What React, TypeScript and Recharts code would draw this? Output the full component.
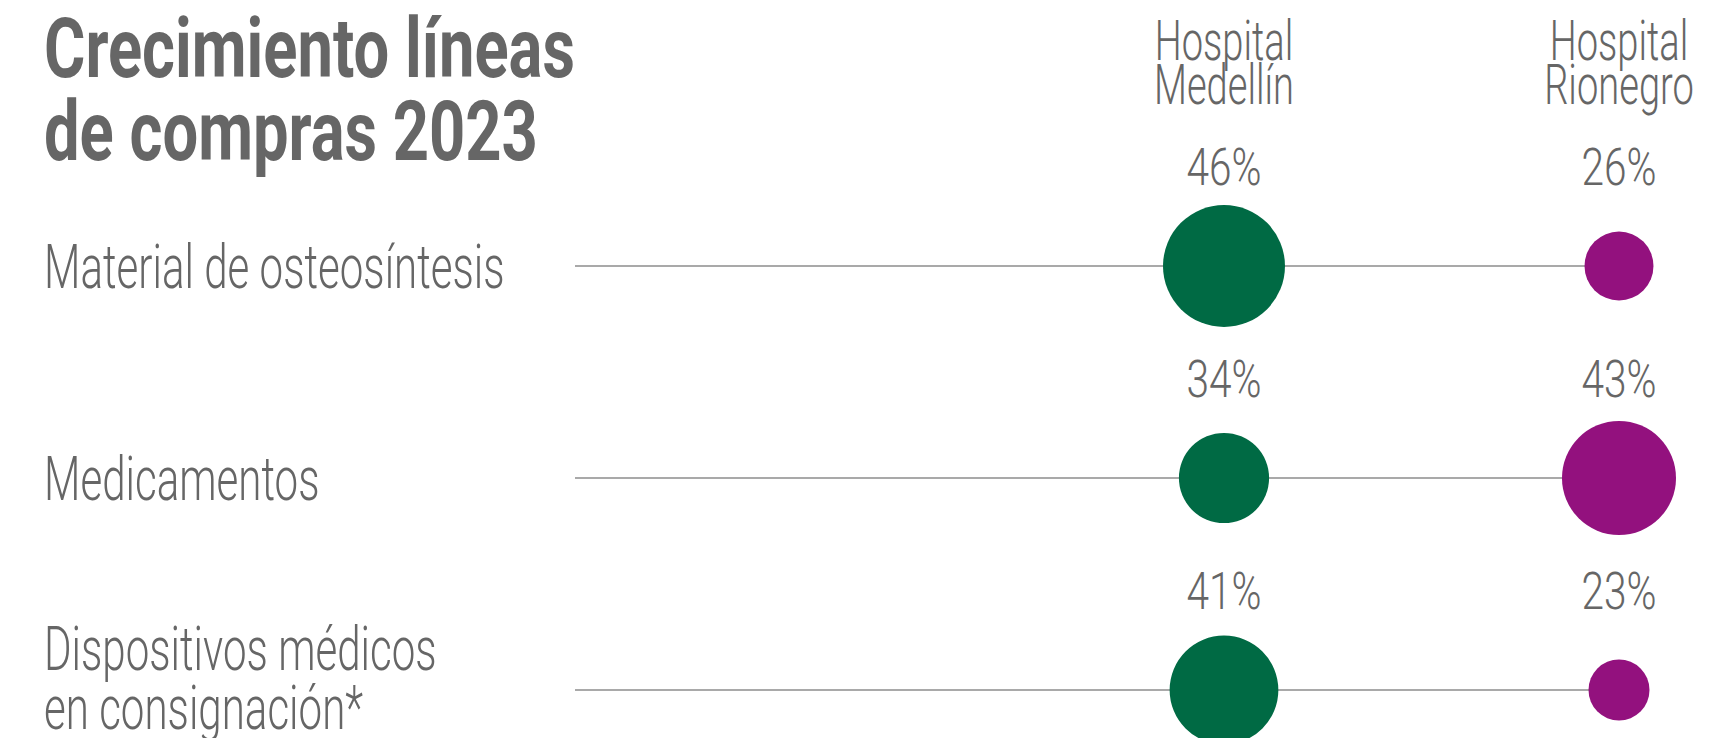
import React from "react";
import {
  ScatterChart,
  Scatter,
  XAxis,
  YAxis,
  ZAxis,
  CartesianGrid,
  LabelList,
} from "recharts";

const titulo = ["Crecimiento líneas", "de compras 2023"];
const categorias = [
  "Material de osteosíntesis",
  "Medicamentos",
  "Dispositivos médicos\nen consignación*",
];
const hospitales = ["Hospital Medellín", "Hospital Rionegro"];
const medellin = [46, 34, 41];
const rionegro = [26, 43, 23];

const TEXT = "#666666";
const FONT = "Roboto, 'Noto Sans', sans-serif";
const VERDE = "#006a44";
const MORADO = "#93117e";

const toPoints = (values: number[], hosp: number) =>
  categorias.map((categoria, i) => ({
    categoria,
    fila: i,
    hosp,
    valor: values[i],
  }));

const dataMedellin = toPoints(medellin, 0);
const dataRionegro = toPoints(rionegro, 1);

// condensed look: squeeze the glyphs horizontally
const Narrow = ({ x, y, sx, size, weight = 300, anchor = "start", children }: any) => (
  <text
    transform={`translate(${x} ${y}) scale(${sx} 1)`}
    textAnchor={anchor}
    fontSize={size}
    fontWeight={weight}
    fontFamily={FONT}
    fill={TEXT}
  >
    {children}
  </text>
);

const HospitalTick = (props: any) => {
  const { x, payload } = props;
  const lines = hospitales[payload.value].split(" ");
  return (
    <g>
      {lines.map((l, i) => (
        <Narrow key={i} x={x} y={60 + i * 44} sx={0.68} size={56} anchor="middle">
          {l}
        </Narrow>
      ))}
    </g>
  );
};

const CategoryTick = (props: any) => {
  const { y, payload } = props;
  const lines = categorias[payload.value].split("\n");
  const first = y + 22 - (lines.length - 1) * 42;
  return (
    <g>
      {lines.map((l, i) => (
        <Narrow key={i} x={44} y={first + i * 59} sx={0.69} size={61}>
          {l}
        </Narrow>
      ))}
    </g>
  );
};

const PercentLabel = (props: any) => {
  const vb = props.viewBox ?? props;
  const cx = vb.x + vb.width / 2;
  const cy = vb.y + vb.height / 2;
  return (
    <Narrow x={cx} y={cy - 81} sx={0.78} size={52} anchor="middle">
      {`${props.value}%`}
    </Narrow>
  );
};

export default function App() {
  return (
    <div
      style={{
        position: "absolute",
        left: 0,
        top: 0,
        width: 1718,
        height: 738,
        overflow: "hidden",
        background: "#fff",
      }}
    >
      <div
        style={{
          position: "absolute",
          left: 44,
          top: 7,
          fontFamily: FONT,
          fontWeight: 700,
          fontSize: 84,
          lineHeight: "83px",
          color: TEXT,
          whiteSpace: "nowrap",
          transform: "scaleX(0.753)",
          transformOrigin: "left top",
        }}
      >
        {titulo.map((t) => (
          <div key={t}>{t}</div>
        ))}
      </div>
      <ScatterChart
        width={1718}
        height={738}
        margin={{ top: 0, right: 99, bottom: 48, left: 0 }}
      >
        <CartesianGrid
          vertical={false}
          horizontalValues={[0, 1, 2]}
          stroke="#8c8c8c"
          strokeWidth={1.5}
        />
        <XAxis
          type="number"
          dataKey="hosp"
          orientation="top"
          height={266}
          domain={[-1.643, 1]}
          ticks={[0, 1]}
          interval={0}
          axisLine={false}
          tickLine={false}
          tick={<HospitalTick />}
        />
        <YAxis
          type="number"
          dataKey="fila"
          width={575}
          domain={[0, 2]}
          reversed
          ticks={[0, 1, 2]}
          interval={0}
          axisLine={false}
          tickLine={false}
          tick={<CategoryTick />}
        />
        <ZAxis
          type="number"
          dataKey={(d: any) => d.valor * d.valor}
          domain={[0, 2500]}
          range={[0, Math.PI * 66.3 * 66.3]}
        />
        <Scatter data={dataMedellin} fill={VERDE} isAnimationActive={false}>
          <LabelList dataKey="valor" content={<PercentLabel />} />
        </Scatter>
        <Scatter data={dataRionegro} fill={MORADO} isAnimationActive={false}>
          <LabelList dataKey="valor" content={<PercentLabel />} />
        </Scatter>
      </ScatterChart>
    </div>
  );
}
